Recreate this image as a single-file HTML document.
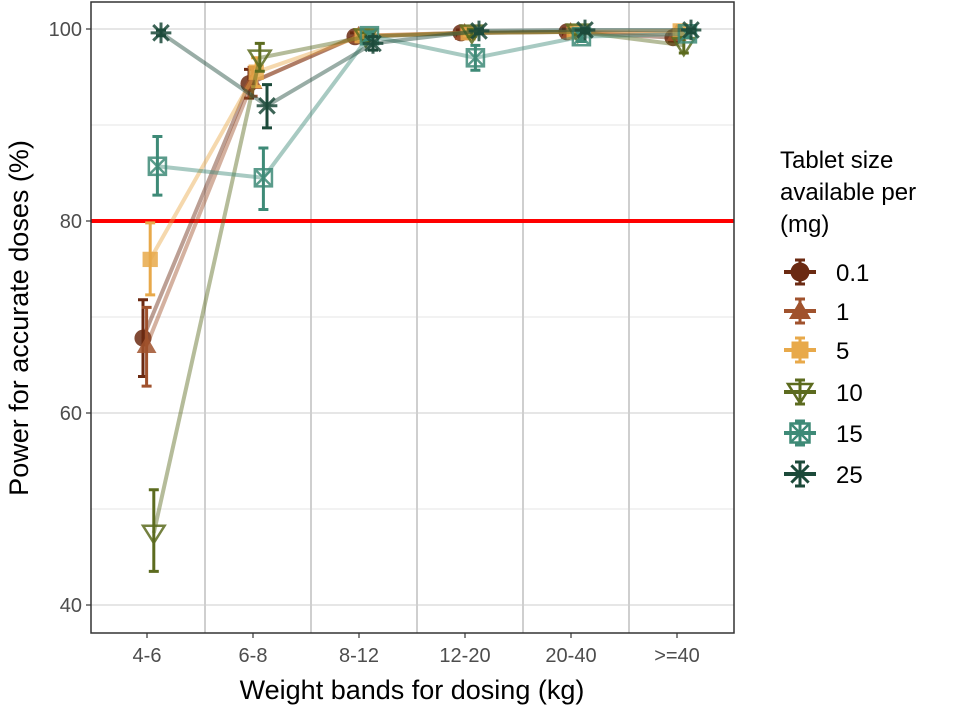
<!DOCTYPE html>
<html><head><meta charset="utf-8"><style>
body{margin:0;background:#fff;font-family:"Liberation Sans",sans-serif}
</style></head><body>
<svg id="chart" width="958" height="706" xmlns="http://www.w3.org/2000/svg" font-family="Liberation Sans, sans-serif">
<rect width="958" height="706" fill="#fff"/>
<g id="grid"></g>
<g id="series"></g>
<rect x="91" y="2" width="643" height="631" fill="none" stroke="#333" stroke-width="1.5"/>
<g id="axes"></g>
<text x="412" y="699" font-size="27" text-anchor="middle" fill="#000">Weight bands for dosing (kg)</text>
<text transform="translate(28,318) rotate(-90)" font-size="27" text-anchor="middle" fill="#000">Power for accurate doses (%)</text>
<g id="legend">
<text x="780" y="168" font-size="24">Tablet size</text>
<text x="780" y="200" font-size="24">available per</text>
<text x="780" y="232" font-size="24">(mg)</text>
</g>
</svg>
<script>
const categories=["4-6","6-8","8-12","12-20","20-40",">=40"];
const seriesNames=["0.1","1","5","10","15","25"];
const v01=[67.8,94.3,99.2,99.6,99.7,99.1];
const v1=[67.0,94.5,99.3,99.6,99.7,99.5];
const v5=[76.0,95.5,99.3,99.6,99.7,99.8];
const v10=[47.5,97.0,99.2,99.6,99.7,98.3];
const v15=[85.7,84.5,99.3,97.0,99.2,99.5];
const v25=[99.6,92.0,98.5,99.8,99.9,99.9];
const lo01=[63.8,92.8,98.8,99.3,99.4,98.7];
const hi01=[71.8,95.8,99.6,99.9,100,99.5];
const lo1=[62.8,93.0,98.9,99.3,99.4,99.1];
const hi1=[71.0,96.0,99.7,99.9,100,99.9];
const lo5=[72.3,94.0,98.9,99.3,99.4,99.5];
const hi5=[79.8,97.0,99.7,99.9,100,100];
const lo10=[43.5,95.6,98.8,99.2,99.4,97.5];
const hi10=[52.0,98.5,99.6,100,100,99.1];
const lo15=[82.7,81.2,98.9,95.7,98.7,99.1];
const hi15=[88.8,87.6,99.7,98.3,99.7,99.9];
const lo25=[99.3,89.7,97.8,99.5,99.6,99.6];
const hi25=[99.9,94.2,99.2,100,100,100];
const yTicks=[40,60,80,100];
const yMinor=[50,70,90];
const threshold=80;
const NS="http://www.w3.org/2000/svg";
const colors=["#6b2a12","#a0522d","#e8a94a","#5c6b1f","#3e8a77","#1c4a3a"];
const shapes=["circle","triangle","square","tridown","boxx","star"];
const vals=[v01,v1,v5,v10,v15,v25];
const los=[lo01,lo1,lo5,lo10,lo15,lo25];
const his=[hi01,hi1,hi5,hi10,hi15,hi25];
function y(v){return 29+(100-v)*9.6;}
function xc(i){return 152+106*i;}
function xs(i,s){return xc(i)+(s-2.5)*3.6;}
function el(t,a,p){const e=document.createElementNS(NS,t);for(const k in a)e.setAttribute(k,a[k]);p.appendChild(e);return e;}
const grid=document.getElementById('grid'),axes=document.getElementById('axes'),ser=document.getElementById('series'),leg=document.getElementById('legend');
yMinor.forEach(v=>{const l=el('line',{x1:91,x2:734,y1:y(v),y2:y(v),stroke:'#ebebeb','stroke-width':1.2},grid);

});
yTicks.forEach(v=>{const l=el('line',{x1:91,x2:734,y1:y(v),y2:y(v),stroke:'#e6e6e6','stroke-width':2},grid);


el('line',{x1:86,x2:91,y1:y(v),y2:y(v),stroke:'#333','stroke-width':1.2},axes);
const t=el('text',{x:82,y:y(v)+7,'font-size':20,'text-anchor':'end',fill:'#4d4d4d'},axes);t.textContent=v;

});
for(let i=0;i<categories.length-1;i++){const x=(xc(i)+xc(i+1))/2;const l=el('line',{x1:x,x2:x,y1:2,y2:633,stroke:'#cfcfcf','stroke-width':2},grid);

}
categories.forEach((c,i)=>{const x=xc(i)-5;el('line',{x1:x,x2:x,y1:633,y2:638,stroke:'#333','stroke-width':1.2},axes);
const t=el('text',{x:x,y:662,'font-size':20,'text-anchor':'middle',fill:'#4d4d4d'},axes);t.textContent=c;

});
const th=el('line',{x1:91,x2:734,y1:y(threshold),y2:y(threshold),stroke:'#ff0000','stroke-width':4},grid);


function marker(shape,cx,cy,col,parent,sz){
const g=el('g',{},parent);const r=sz||9;
if(shape==='circle')el('circle',{cx,cy,r:r*0.95,fill:col},g);
else if(shape==='triangle')el('polygon',{points:`${cx},${cy-r*1.1} ${cx-r*1.1},${cy+r*0.8} ${cx+r*1.1},${cy+r*0.8}`,fill:col},g);
else if(shape==='square')el('rect',{x:cx-r*0.85,y:cy-r*0.85,width:r*1.7,height:r*1.7,fill:col},g);
else if(shape==='tridown')el('polygon',{points:`${cx},${cy+r*1.1} ${cx-r*1.2},${cy-r*0.8} ${cx+r*1.2},${cy-r*0.8}`,fill:'none',stroke:col,'stroke-width':2.5},g);
else if(shape==='boxx'){const h=r*0.95;el('rect',{x:cx-h,y:cy-h,width:2*h,height:2*h,fill:'none',stroke:col,'stroke-width':2.5},g);
el('path',{d:`M${cx-h},${cy-h}L${cx+h},${cy+h}M${cx+h},${cy-h}L${cx-h},${cy+h}`,stroke:col,'stroke-width':2.5},g);}
else {const h=r*1.15;el('path',{d:`M${cx-h},${cy}H${cx+h}M${cx},${cy-h}V${cy+h}M${cx-h*0.75},${cy-h*0.75}L${cx+h*0.75},${cy+h*0.75}M${cx+h*0.75},${cy-h*0.75}L${cx-h*0.75},${cy+h*0.75}`,stroke:col,'stroke-width':3},g);}
return g;}
vals.forEach((vs,s)=>{const col=colors[s];
const pts=vs.map((v,i)=>xs(i,s)+','+y(v)).join(' ');
const pl=el('polyline',{points:pts,fill:'none',stroke:col,'stroke-width':4,'stroke-opacity':0.45},ser);


vs.forEach((v,i)=>{const x=xs(i,s);
const e=el('path',{d:`M${x},${y(los[s][i])}V${y(his[s][i])}M${x-5},${y(los[s][i])}H${x+5}M${x-5},${y(his[s][i])}H${x+5}`,stroke:col,'stroke-width':3},ser);


const m=marker(shapes[s],x,y(v),col,ser);m.setAttribute('opacity',0.85);

});});
const legY=[272,311,350,392,433,474];
seriesNames.forEach((n,s)=>{const g=el('g',{},leg);


const col=colors[s],yy=legY[s];
el('line',{x1:784,x2:816,y1:yy,y2:yy,stroke:col,'stroke-width':4},g);
el('path',{d:`M800,${yy-12}V${yy+12}M795,${yy-12}H805M795,${yy+12}H805`,stroke:col,'stroke-width':3},g);
marker(shapes[s],800,yy,col,g,10);
const t=el('text',{x:836,y:yy+9,'font-size':24,fill:'#000'},g);t.textContent=n;});
</script>
</body></html>
